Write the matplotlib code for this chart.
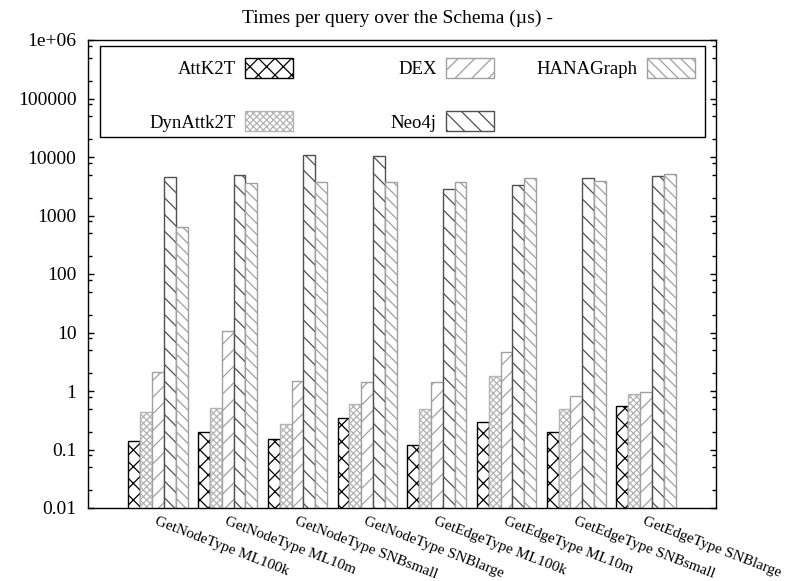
import numpy as np
import matplotlib
matplotlib.use("Agg")
import matplotlib.pyplot as plt
from matplotlib.patches import Rectangle
from matplotlib.ticker import FixedLocator, FixedFormatter, LogLocator, NullFormatter

plt.rcParams['font.family'] = ['Liberation Serif', 'DejaVu Serif']
plt.rcParams['hatch.linewidth'] = 0.9

# Данные (мкс на запрос)
queries = ["GetNodeType ML100k", "GetNodeType ML10m", "GetNodeType SNBsmall",
           "GetNodeType SNBlarge", "GetEdgeType ML100k", "GetEdgeType ML10m",
           "GetEdgeType SNBsmall", "GetEdgeType SNBlarge"]
series = ["AttK2T", "DynAttk2T", "DEX", "Neo4j", "HANAGraph"]
attk2t = [0.141, 0.197, 0.149, 0.341, 0.119, 0.299, 0.199, 0.561]
dynattk2t = [0.432, 0.506, 0.276, 0.607, 0.487, 1.83, 0.487, 0.899]
dex = [2.09, 10.7, 1.48, 1.41, 1.41, 4.58, 0.812, 0.95]
neo4j = [4600, 4870, 10700, 10500, 2800, 3320, 4430, 4680]
hanagraph = [644, 3550, 3780, 3800, 3780, 4320, 3930, 5190]
values = [attk2t, dynattk2t, dex, neo4j, hanagraph]

yticks = [0.01, 0.1, 1, 10, 100, 1000, 10000, 100000, 1e6]
ytick_labels = ["0.01", "0.1", "1", "10", "100", "1000", "10000", "100000", "1e+06"]

# стили столбцов (цвет контура/штриховки, штриховка)
edge_colors = ["#000000", "#b4b4b4", "#a0a0a0", "#505050", "#a0a0a0"]
hatches = ["xx", "xxxxx", "//", "\\\\", "\\\\\\"]

fs = 14
fig = plt.figure(figsize=(7.94, 5.81), dpi=100)
ax = fig.add_axes([88.3 / 794, 73 / 581, 627.4 / 794, 468 / 581])

x = np.arange(len(queries))
w = 0.17
bars = []
for i, (name, vals) in enumerate(zip(series, values)):
    b = ax.bar(x + (i - 2) * w, vals, w, label=name, facecolor="white",
               edgecolor=edge_colors[i], hatch=hatches[i], linewidth=1.0)
    bars.append(b)

ax.set_yscale("log")
ax.set_ylim(0.01, 1e6)
ax.set_xlim(-1, 8)

ax.yaxis.set_major_locator(FixedLocator(yticks))
ax.yaxis.set_major_formatter(FixedFormatter(ytick_labels))
ax.yaxis.set_minor_locator(LogLocator(base=10, subs=[2, 5, 8], numticks=50))
ax.yaxis.set_minor_formatter(NullFormatter())
ax.tick_params(axis="y", which="major", direction="in", length=4.5, width=1,
               right=True, labelsize=fs, pad=8.5)
ax.tick_params(axis="y", which="minor", direction="in", length=2.6, width=1, right=True)

ax.set_xticks(x)
ax.set_xticklabels(queries, rotation=-21, ha="left", va="top",
                   rotation_mode="anchor", fontsize=11)
ax.tick_params(axis="x", length=0, pad=5)

for sp in ax.spines.values():
    sp.set_linewidth(1.0)

# Легенда: три колонки в общей рамке
columns = [[0, 1], [2, 3], [4]]
col_right = [0.3267, 0.6466, 0.967]
legends = []
for cols, xr in zip(columns, col_right):
    leg = ax.legend([bars[k] for k in cols], [series[k] for k in cols],
                    loc="upper right", bbox_to_anchor=(xr, 0.961),
                    frameon=False, markerfirst=False, fontsize=13.5,
                    handlelength=2.56, handleheight=1.25, handletextpad=0.5,
                    labelspacing=1.75, borderpad=0, borderaxespad=0)
    legends.append(leg)
for leg in legends[:-1]:
    ax.add_artist(leg)
ax.add_patch(Rectangle((0.0187, 0.793), 0.9645, 0.194, transform=ax.transAxes,
                       fill=False, edgecolor="black", linewidth=1.0, zorder=5))

fig.text(0.5, 1 - 18 / 581, "Times per query over the Schema (µs) -",
         ha="center", va="center", fontsize=fs)

plt.savefig("out.png", dpi=100)
